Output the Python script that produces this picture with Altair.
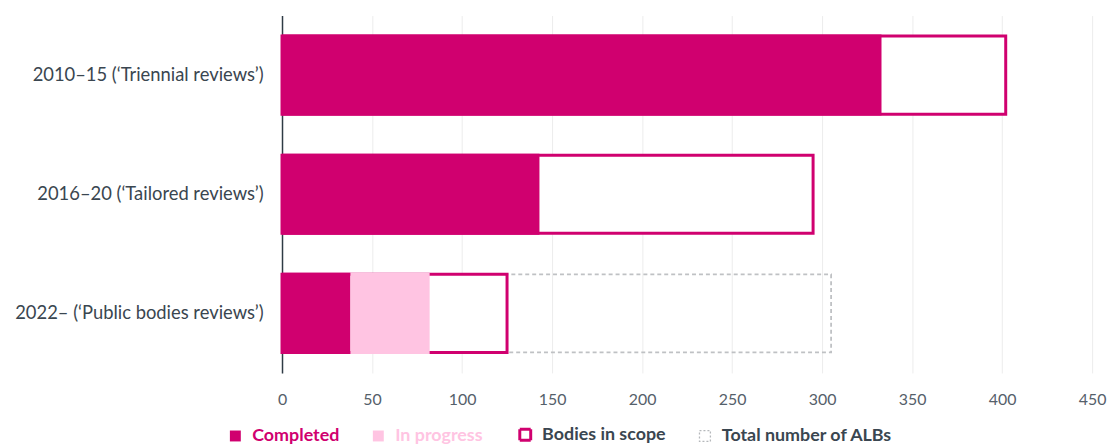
import altair as alt
import pandas as pd

periods = [
    "2010–15 (‘Triennial reviews’)",
    "2016–20 (‘Tailored reviews’)",
    "2022– (‘Public bodies reviews’)",
]
completed = [333, 143, 38]
in_progress = [0, 0, 44]
bodies_in_scope = [402, 295, 125]
total_albs = [None, None, 305]

series_names = ["Completed", "In progress", "Bodies in scope", "Total number of ALBs"]
x_ticks = [0, 50, 100, 150, 200, 250, 300, 350, 400, 450]

MAG = "#d0006f"
PINK = "#ffc4e2"
TEXT = "#3a4650"

wide = pd.DataFrame({
    "period": periods,
    "zero": [0] * len(periods),
    "scope": bodies_in_scope,
    "total": total_albs,
})

rows = []
for p, c, ip in zip(periods, completed, in_progress):
    rows.append({"period": p, "series": "Completed", "start": 0, "end": c})
    if ip > 0:
        rows.append({"period": p, "series": "In progress", "start": c, "end": c + ip})
long = pd.DataFrame(rows)

label_color = (
    f"datum.value === 'Completed' ? '{MAG}' : "
    f"datum.value === 'In progress' ? '{PINK}' : '{TEXT}'"
)
sym_stroke = (
    f"datum.value === 'Bodies in scope' ? '{MAG}' : "
    f"datum.value === 'Total number of ALBs' ? '#b5b8bb' : 'transparent'"
)
sym_width = (
    "datum.value === 'Bodies in scope' ? 3 : "
    "datum.value === 'Total number of ALBs' ? 1.3 : 0"
)
sym_dash = "datum.value === 'Total number of ALBs' ? [2, 2] : [1, 0]"

legend = alt.Legend(
    title=None,
    orient="none",
    legendX=-56,
    legendY=413,
    direction="horizontal",
    symbolType="square",
    symbolSize=121,
    labelFontSize=18,
    labelFontWeight="bold",
    labelFont="Lato",
    labelOffset=8,
    labelLimit=400,
    columnPadding=30,
    labelColor=alt.ExprRef(expr=label_color),
    symbolStrokeColor=alt.ExprRef(expr=sym_stroke),
    symbolStrokeWidth=alt.ExprRef(expr=sym_width),
    symbolDash=alt.ExprRef(expr=sym_dash),
)

y_enc = alt.Y(
    "period:N",
    sort=periods,
    scale=alt.Scale(paddingInner=0.32, paddingOuter=0.16),
    axis=alt.Axis(
        title=None,
        ticks=False,
        labelFontSize=18.5,
        labelFont="Lato",
        labelColor=TEXT,
        labelPadding=19,
        labelLimit=400,
        domainColor="#2f3b45",
        domainWidth=1.5,
    ),
)
x_scale = alt.Scale(domain=[0, 450], nice=False)
x_axis = alt.Axis(
    title=None,
    values=x_ticks,
    ticks=False,
    domain=False,
    grid=True,
    gridColor="#ececec",
    labelFontSize=16,
    labelFont="Lato",
    labelColor="#55606a",
    labelPadding=19,
    labelFlush=False,
)

total_layer = (
    alt.Chart(wide)
    .transform_filter("isValid(datum.total)")
    .mark_bar(
        fill="white",
        fillOpacity=0,
        stroke="#bfc1c4",
        strokeWidth=1.8,
        strokeDash=[4, 3],
        height={"band": 0.965},
    )
    .encode(y=y_enc, x=alt.X("zero:Q", scale=x_scale, axis=x_axis), x2="total:Q")
)

scope_layer = (
    alt.Chart(wide)
    .mark_bar(fill="white", stroke=MAG, strokeWidth=3, height={"band": 0.965})
    .encode(y=y_enc, x=alt.X("zero:Q", scale=x_scale, axis=x_axis), x2="scope:Q")
)

status_layer = (
    alt.Chart(long)
    .mark_bar()
    .encode(
        y=y_enc,
        x=alt.X("start:Q", scale=x_scale, axis=x_axis),
        x2="end:Q",
        fill=alt.Fill(
            "series:N",
            scale=alt.Scale(domain=series_names, range=[MAG, PINK, "white", "white"]),
            legend=legend,
        ),
    )
)

chart = (
    alt.layer(total_layer, scope_layer, status_layer)
    .properties(
        width=816,
        height=360,
        autosize=alt.AutoSizeParams(type="none"),
        padding={"left": 276, "top": 6, "right": 18, "bottom": 72},
    )
    .configure_view(stroke=None)
)

chart.save("out.html", embed_options={"renderer": "svg", "actions": False})
